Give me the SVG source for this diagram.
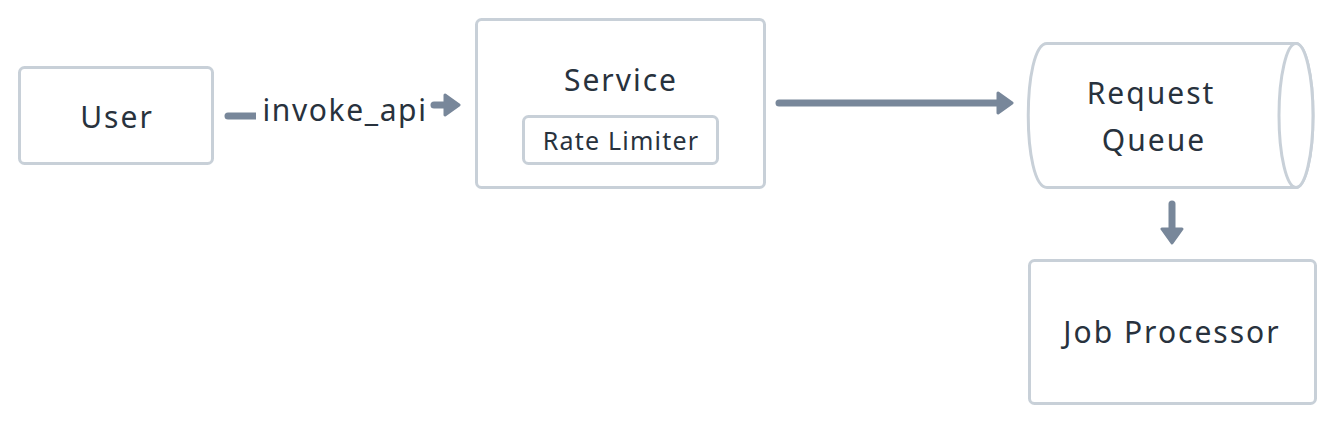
<svg xmlns="http://www.w3.org/2000/svg" width="1336" height="424" viewBox="0 0 1336 424">
  <defs>
    <style>
      .box { fill: #ffffff; stroke: #c8d0d8; stroke-width: 3; }
      .lbl { font-family: "Noto Sans", "Liberation Sans", sans-serif; fill: #28323d; text-anchor: middle; dominant-baseline: central; }
      .big { font-size: 30px; letter-spacing: 2px; }
      .edgelbl { font-size: 30px; letter-spacing: 1.6px; }
      .small { font-size: 25px; letter-spacing: 1.2px; }
      .edge { fill: none; stroke: #78879a; stroke-width: 7; stroke-linecap: round; stroke-linejoin: round; }
    </style>
    <marker id="ah" markerUnits="userSpaceOnUse" viewBox="0 0 18 24" refX="2" refY="12" markerWidth="18" markerHeight="24" orient="auto">
      <path d="M2,2 L16,12 L2,22 Z" fill="#78879a" stroke="#78879a" stroke-width="3" stroke-linejoin="round"/>
    </marker>
  </defs>
  <rect width="1336" height="424" fill="#ffffff"/>

  <g id="connectors">
    <path class="edge" d="M228,116 L300,116"/>
    <path class="edge" d="M434,105 L445,105" marker-end="url(#ah)"/>
    <rect x="256" y="90" width="172" height="40" fill="#ffffff"/>
    <text class="lbl edgelbl" x="345" y="109">invoke_api</text>
    <path class="edge" d="M779,103 L998,103" marker-end="url(#ah)"/>
    <path class="edge" d="M1172,204 L1172,229" marker-end="url(#ah)"/>
  </g>

  <g id="user">
    <rect class="box" x="19.5" y="67.5" width="193" height="96" rx="5"/>
    <text class="lbl big" x="117" y="116">User</text>
  </g>

  <g id="service">
    <rect class="box" x="476.5" y="19.5" width="288" height="168" rx="5"/>
    <text class="lbl big" x="621" y="79">Service</text>
    <g id="rate-limiter">
      <rect class="box" x="523.5" y="116.5" width="194" height="47" rx="5"/>
      <text class="lbl small" x="621" y="140">Rate Limiter</text>
    </g>
  </g>

  <g id="request-queue">
    <path class="box" d="M1047,43.5 L1296,43.5 A17,72 0 0 1 1296,187.5 L1047,187.5 C1022,187.5 1022,43.5 1047,43.5 Z"/>
    <ellipse class="box" cx="1296" cy="115.5" rx="17" ry="72"/>
    <text class="lbl big" x="1151" y="92">Request</text>
    <text class="lbl big" x="1154" y="139">Queue</text>
  </g>

  <g id="job-processor">
    <rect class="box" x="1029.5" y="260.5" width="286" height="143" rx="5"/>
    <text class="lbl big" x="1172" y="331">Job Processor</text>
  </g>
</svg>
